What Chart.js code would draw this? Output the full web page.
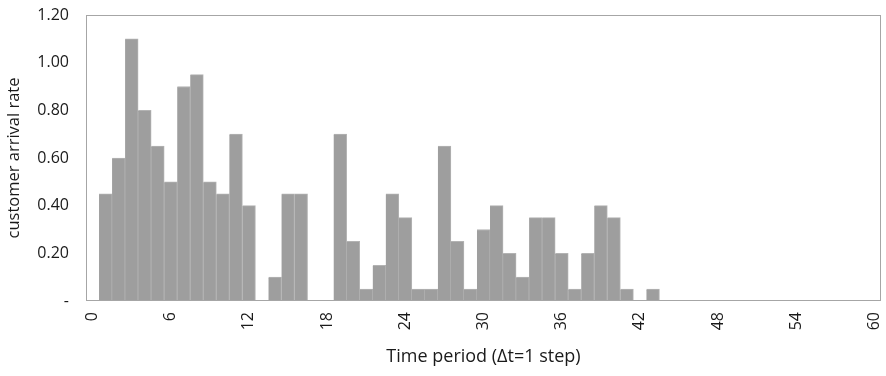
<!DOCTYPE html>
<html>
<head>
<meta charset="utf-8">
<script src="https://cdn.jsdelivr.net/npm/chart.js@4.4.0/dist/chart.umd.min.js"></script>
<style>
  html, body { margin: 0; padding: 0; background: #fff; }
  #wrap { width: 886px; height: 376px; position: relative; }
</style>
</head>
<body>
<div id="wrap"><canvas id="arrivalChart"></canvas></div>
<script>
// time periods 0..60
const periods = [];
for (let t = 0; t <= 60; t++) periods.push(t);

// customer arrival rate per period, periods 0..43
const arrivalRate = [
  0, 0.45, 0.60, 1.10, 0.80, 0.65, 0.50, 0.90, 0.95, 0.50,
  0.45, 0.70, 0.40, 0, 0.10, 0.45, 0.45, 0, 0, 0.70,
  0.25, 0.05, 0.15, 0.45, 0.35, 0.05, 0.05, 0.65, 0.25, 0.05,
  0.30, 0.40, 0.20, 0.10, 0.35, 0.35, 0.20, 0.05, 0.20, 0.40,
  0.35, 0.05, 0, 0.05
];

const yTicks = [0, 0.2, 0.4, 0.6, 0.8, 1.0, 1.2];

const fontFamily = "'Open Sans', sans-serif";
const textColor = '#1a1a1a';

// frame round the plot area
const plotFrame = {
    id: 'plotFrame',
    afterDraw(chart) {
        const a = chart.chartArea;
        const ctx = chart.ctx;
        ctx.save();
        ctx.strokeStyle = '#a6a6a6';
        ctx.lineWidth = 1;
        ctx.strokeRect(Math.round(a.left) + 0.5, Math.round(a.top) + 0.5,
            Math.round(a.right - a.left) - 1, Math.round(a.bottom - a.top) - 1);
        ctx.restore();
    }
};

new Chart(document.getElementById('arrivalChart'), {
    type: 'bar',
    data: {
        labels: periods,
        datasets: [{
            label: 'customer arrival rate',
            data: arrivalRate,
            backgroundColor: '#9e9e9e',
            borderColor: '#b3b3b3',
            borderWidth: { top: 1, right: 1, left: 0, bottom: 0 },
            barPercentage: 1.0,
            categoryPercentage: 1.0,
        }]
    },
    options: {
        responsive: true,
        maintainAspectRatio: false,
        animation: false,
        layout: { padding: { top: 15, right: 5, left: 0, bottom: 0 } },
        scales: {
            x: {
                grid: { display: false },
                border: { display: false },
                afterFit: (scale) => {
                    scale.height = 75;
                    scale.paddingLeft = 0;
                    scale.paddingRight = 0;
                },
                ticks: {
                    autoSkip: false,
                    minRotation: 90,
                    maxRotation: 90,
                    padding: 3,
                    color: textColor,
                    font: { size: 16, family: fontFamily },
                    callback: function (value) {
                        const t = periods[value];
                        return t % 6 === 0 ? String(t) : '';
                    }
                },
                title: {
                    display: true,
                    text: 'Time period (\u0394t=1 step)',
                    color: textColor,
                    padding: { top: 4, bottom: 8 },
                    font: { size: 18, family: fontFamily }
                }
            },
            y: {
                min: 0,
                max: 1.2,
                grid: { display: false },
                border: { display: false },
                afterFit: (scale) => {
                    scale.width = 86;
                    scale.paddingTop = 0;
                    scale.paddingBottom = 0;
                },
                afterBuildTicks: (scale) => { scale.ticks = yTicks.map(v => ({ value: v })); },
                ticks: {
                    padding: 9,
                    color: textColor,
                    font: { size: 16, family: fontFamily },
                    callback: (v) => v === 0 ? '-' : v.toFixed(2)
                },
                title: {
                    display: true,
                    text: 'customer arrival rate',
                    color: textColor,
                    padding: { top: 4, bottom: 4 },
                    font: { size: 16.5, family: fontFamily }
                }
            }
        },
        plugins: {
            legend: { display: false },
            tooltip: { enabled: false }
        }
    },
    plugins: [plotFrame]
});
</script>
</body>
</html>
